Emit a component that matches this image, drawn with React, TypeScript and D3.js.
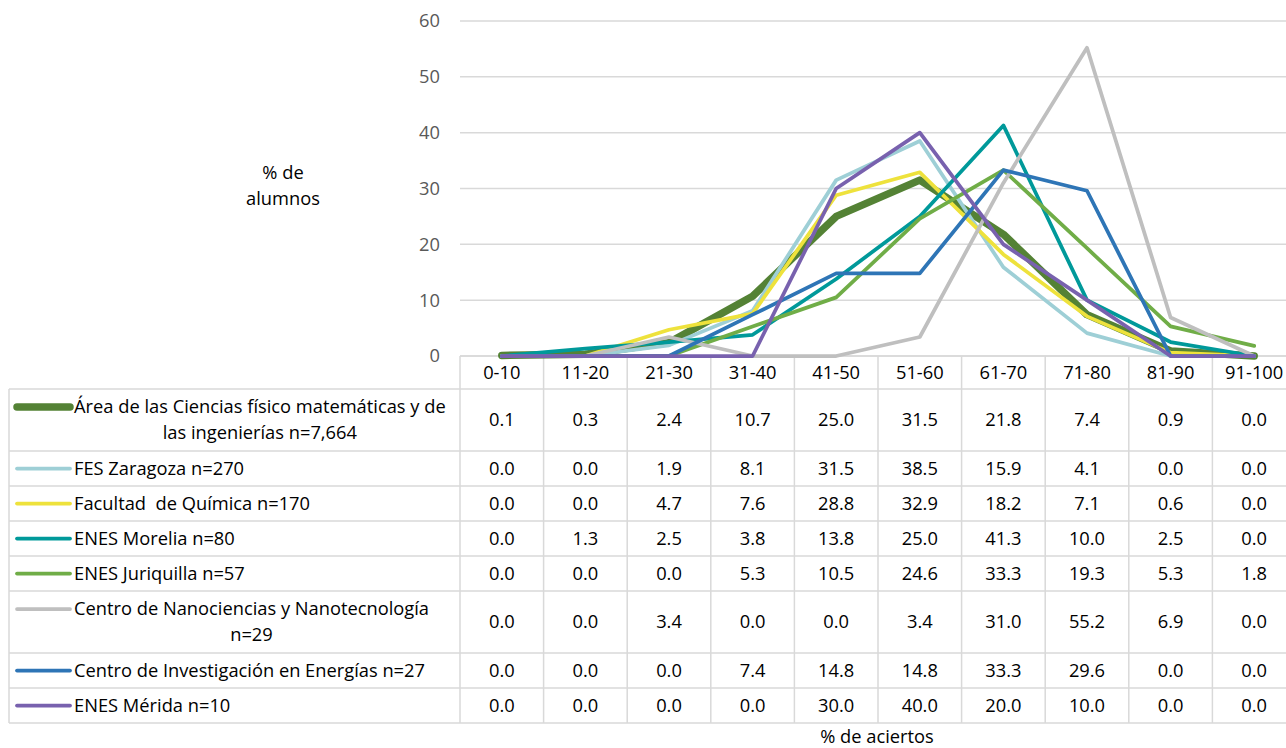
import React, { useRef, useEffect } from 'react';
import * as d3 from 'd3';

const categories = ['0-10', '11-20', '21-30', '31-40', '41-50', '51-60', '61-70', '71-80', '81-90', '91-100'];

const seriesNames = [
  ['Área de las Ciencias físico matemáticas y de', 'las ingenierías n=7,664'],
  ['FES Zaragoza n=270'],
  ['Facultad  de Química n=170'],
  ['ENES Morelia n=80'],
  ['ENES Juriquilla n=57'],
  ['Centro de Nanociencias y Nanotecnología', 'n=29'],
  ['Centro de Investigación en Energías n=27'],
  ['ENES Mérida n=10'],
];

const areaCiencias = [0.1, 0.3, 2.4, 10.7, 25.0, 31.5, 21.8, 7.4, 0.9, 0.0];
const fesZaragoza = [0.0, 0.0, 1.9, 8.1, 31.5, 38.5, 15.9, 4.1, 0.0, 0.0];
const quimica = [0.0, 0.0, 4.7, 7.6, 28.8, 32.9, 18.2, 7.1, 0.6, 0.0];
const enesMorelia = [0.0, 1.3, 2.5, 3.8, 13.8, 25.0, 41.3, 10.0, 2.5, 0.0];
const enesJuriquilla = [0.0, 0.0, 0.0, 5.3, 10.5, 24.6, 33.3, 19.3, 5.3, 1.8];
const nanociencias = [0.0, 0.0, 3.4, 0.0, 0.0, 3.4, 31.0, 55.2, 6.9, 0.0];
const energias = [0.0, 0.0, 0.0, 7.4, 14.8, 14.8, 33.3, 29.6, 0.0, 0.0];
const enesMerida = [0.0, 0.0, 0.0, 0.0, 30.0, 40.0, 20.0, 10.0, 0.0, 0.0];

const seriesValues = [areaCiencias, fesZaragoza, quimica, enesMorelia, enesJuriquilla, nanociencias, energias, enesMerida];
const colors = ['#548235', '#9ECFD6', '#EEE23C', '#00999A', '#70AD47', '#BFBFBF', '#2E75B6', '#7861AE'];
const yTicks = [0, 10, 20, 30, 40, 50, 60];

const FONT = '"Open Sans", sans-serif';
const FS = '18.3px';

const Chart: React.FC = () => {
  const ref = useRef<SVGSVGElement>(null);

  useEffect(() => {
    document.body.style.margin = '0';
    document.body.style.overflow = 'hidden';
    const svg = d3.select(ref.current);
    svg.selectAll('*').remove();

    const plotLeft = 460;
    const step = 83.6;
    const x = d3
      .scaleBand<string>()
      .domain(categories)
      .range([plotLeft, plotLeft + step * categories.length]);
    const y = d3.scaleLinear().domain([0, 60]).range([356, 21]);
    const grid = '#D9D9D9';

    // gridlines
    svg
      .append('g')
      .selectAll('line')
      .data(yTicks)
      .enter()
      .append('line')
      .attr('x1', plotLeft)
      .attr('x2', 1290)
      .attr('y1', (d) => y(d))
      .attr('y2', (d) => y(d))
      .attr('stroke', grid)
      .attr('stroke-width', 1.5);

    svg
      .append('g')
      .selectAll('text')
      .data(yTicks)
      .enter()
      .append('text')
      .attr('x', 440)
      .attr('y', (d) => y(d))
      .attr('dy', '0.35em')
      .attr('text-anchor', 'end')
      .attr('fill', '#595959')
      .style('font-family', FONT)
      .style('font-size', FS)
      .text((d) => d);

    // axis titles
    const yTitle = svg
      .append('text')
      .attr('text-anchor', 'middle')
      .style('font-family', FONT)
      .style('font-size', FS)
      .attr('fill', '#000');
    yTitle.append('tspan').attr('x', 283).attr('y', 179).text('% de');
    yTitle.append('tspan').attr('x', 283).attr('y', 205).text('alumnos');

    svg
      .append('text')
      .attr('x', 877)
      .attr('y', 743)
      .attr('text-anchor', 'middle')
      .style('font-family', FONT)
      .style('font-size', FS)
      .text('% de aciertos');

    // table rows
    const singleH = 35;
    const doubleH = 62;
    const headerTop = 356;
    const headerBottom = 389;
    const rowTops: number[] = [];
    let cur = headerBottom;
    seriesNames.forEach((n) => {
      rowTops.push(cur);
      cur += n.length > 1 ? doubleH : singleH;
    });
    const tableBottom = cur;
    const tableLeft = 9;
    const tableRight = plotLeft + step * categories.length;

    const table = svg.append('g');
    table
      .append('line')
      .attr('x1', plotLeft)
      .attr('x2', tableRight)
      .attr('y1', headerTop)
      .attr('y2', headerTop)
      .attr('stroke', grid)
      .attr('stroke-width', 1.5);
    [...rowTops, tableBottom].forEach((ty) => {
      table
        .append('line')
        .attr('x1', tableLeft)
        .attr('x2', tableRight)
        .attr('y1', ty)
        .attr('y2', ty)
        .attr('stroke', grid)
        .attr('stroke-width', 1.5);
    });
    table
      .append('line')
      .attr('x1', tableLeft)
      .attr('x2', tableLeft)
      .attr('y1', headerBottom)
      .attr('y2', tableBottom)
      .attr('stroke', grid)
      .attr('stroke-width', 1.5);
    d3.range(categories.length + 1).forEach((i) => {
      const vx = plotLeft + step * i;
      table
        .append('line')
        .attr('x1', vx)
        .attr('x2', vx)
        .attr('y1', headerTop)
        .attr('y2', tableBottom)
        .attr('stroke', grid)
        .attr('stroke-width', 1.5);
    });

    table
      .selectAll('text.cat')
      .data(categories)
      .enter()
      .append('text')
      .attr('class', 'cat')
      .attr('x', (d) => (x(d) as number) + x.bandwidth() / 2)
      .attr('y', (headerTop + headerBottom) / 2)
      .attr('dy', '0.35em')
      .attr('text-anchor', 'middle')
      .style('font-family', FONT)
      .style('font-size', FS)
      .text((d) => d);

    seriesNames.forEach((name, si) => {
      const top = rowTops[si];
      const h = name.length > 1 ? doubleH : singleH;
      const mid = top + h / 2;
      const firstY = name.length > 1 ? top + 18 : mid;
      const lw = si === 0 ? 7.5 : 3.75;

      table
        .append('line')
        .attr('x1', 17)
        .attr('x2', 70)
        .attr('y1', firstY)
        .attr('y2', firstY)
        .attr('stroke', colors[si])
        .attr('stroke-width', lw)
        .attr('stroke-linecap', 'round');

      const t = table
        .append('text')
        .style('font-family', FONT)
        .style('font-size', FS)
        .style('white-space', 'pre')
        .attr('fill', '#000');
      const first = t
        .append('tspan')
        .attr('x', 74)
        .attr('y', firstY)
        .attr('dy', '0.35em')
        .text(name[0]);
      if (name.length > 1) {
        const w = (first.node() as SVGTSpanElement).getComputedTextLength();
        t.append('tspan')
          .attr('x', 74 + w / 2)
          .attr('y', firstY + 26)
          .attr('dy', '0.35em')
          .attr('text-anchor', 'middle')
          .text(name[1]);
      }

      table
        .append('g')
        .selectAll('text')
        .data(seriesValues[si])
        .enter()
        .append('text')
        .attr('x', (_d, i) => (x(categories[i]) as number) + x.bandwidth() / 2)
        .attr('y', mid)
        .attr('dy', '0.35em')
        .attr('text-anchor', 'middle')
        .style('font-family', FONT)
        .style('font-size', FS)
        .text((d) => d.toFixed(1));
    });

    // lines
    const line = d3
      .line<number>()
      .x((_d, i) => (x(categories[i]) as number) + x.bandwidth() / 2)
      .y((d) => y(d));

    seriesValues.forEach((vals, si) => {
      svg
        .append('path')
        .datum(vals)
        .attr('d', line)
        .attr('fill', 'none')
        .attr('stroke', colors[si])
        .attr('stroke-width', si === 0 ? 7.5 : 3.75)
        .attr('stroke-linejoin', 'round')
        .attr('stroke-linecap', 'round');
    });
  }, []);

  return (
    <svg
      ref={ref}
      width={1286}
      height={748}
      style={{ display: 'block', position: 'absolute', left: 0, top: 0 }}
    />
  );
};

export default function App() {
  return <Chart />;
}
